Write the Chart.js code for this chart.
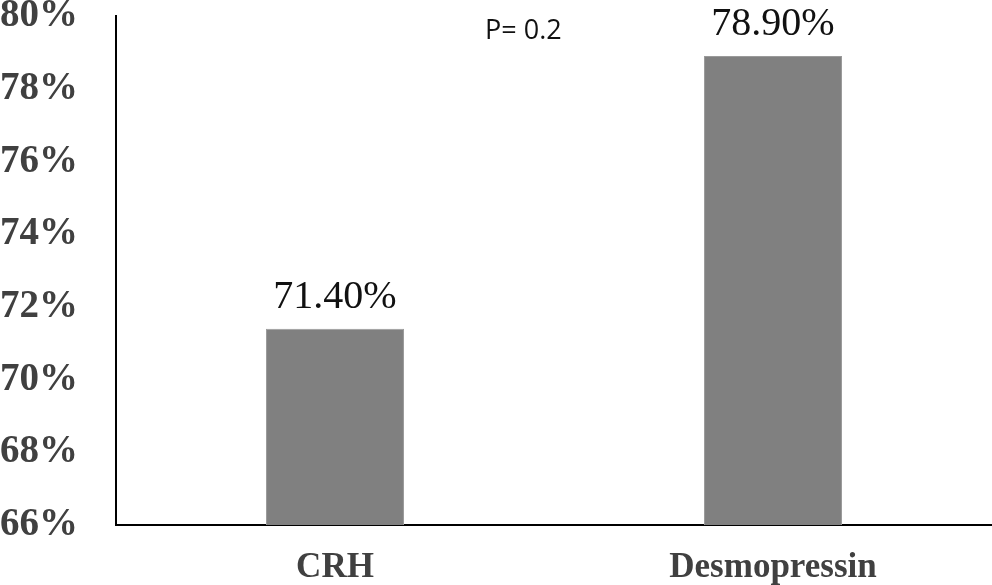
<!DOCTYPE html>
<html>
<head>
<meta charset="utf-8">
<script src="https://cdn.jsdelivr.net/npm/chart.js@4"></script>
<style>
  html, body { margin: 0; padding: 0; background: #fff; }
  #wrap { width: 992px; height: 585px; }
</style>
</head>
<body>
<div id="wrap"><canvas id="bars"></canvas></div>
<script>
const groups = ["CRH", "Desmopressin"];
const rates = [71.4, 78.9];
const rateLabels = ["71.40%", "78.90%"];
const yTicks = [66, 68, 70, 72, 74, 76, 78, 80];
const pValue = "P= 0.2";

// labels above bars + the p-value note
const valueLabels = {
  id: "valueLabels",
  afterDatasetsDraw(chart) {
    const ctx = chart.ctx;
    const meta = chart.getDatasetMeta(0);
    ctx.save();
    ctx.fillStyle = "#111";
    ctx.font = "40px 'Liberation Serif', serif";
    ctx.textAlign = "center";
    ctx.textBaseline = "alphabetic";
    meta.data.forEach((bar, i) => {
      ctx.fillText(rateLabels[i], bar.x, bar.y - 21);
    });
    ctx.font = "27px 'Open Sans', sans-serif";
    ctx.textAlign = "left";
    ctx.fillText(pValue, 485, 39);
    ctx.restore();
  },
};

new Chart(document.getElementById("bars"), {
  type: "bar",
  data: {
    labels: groups,
    datasets: [{
      data: rates,
      backgroundColor: "#808080",
      borderColor: "#9a9a9a",
      borderWidth: 1,
      barPercentage: 0.63,
      categoryPercentage: 0.5,
    }],
  },
  options: {
    responsive: true,
    maintainAspectRatio: false,
    animation: false,
    layout: { padding: { top: 16, right: 0, left: 0, bottom: 0 } },
    plugins: { legend: { display: false }, tooltip: { enabled: false } },
    scales: {
      x: {
        grid: { display: false, drawTicks: false },
        border: { display: true, color: "#000", width: 2 },
        ticks: {
          color: "#404040",
          padding: 22,
          font: { family: "'Liberation Serif', serif", size: 35, weight: "bold" },
        },
        afterFit(scale) { scale.height = 60; scale.paddingLeft = 0; scale.paddingRight = 0; },
      },
      y: {
        min: 66,
        max: 80,
        grid: { display: false, drawTicks: false },
        border: { display: true, color: "#000", width: 2 },
        afterBuildTicks(scale) { scale.ticks = yTicks.map((v) => ({ value: v })); },
        ticks: {
          color: "#404040",
          padding: 38,
          callback: (v) => v + "%",
          font: { family: "'Liberation Serif', serif", size: 39, weight: "bold" },
        },
        afterFit(scale) { scale.width = 116; scale.paddingTop = 0; scale.paddingBottom = 0; },
      },
    },
  },
  plugins: [valueLabels],
});
</script>
</body>
</html>
